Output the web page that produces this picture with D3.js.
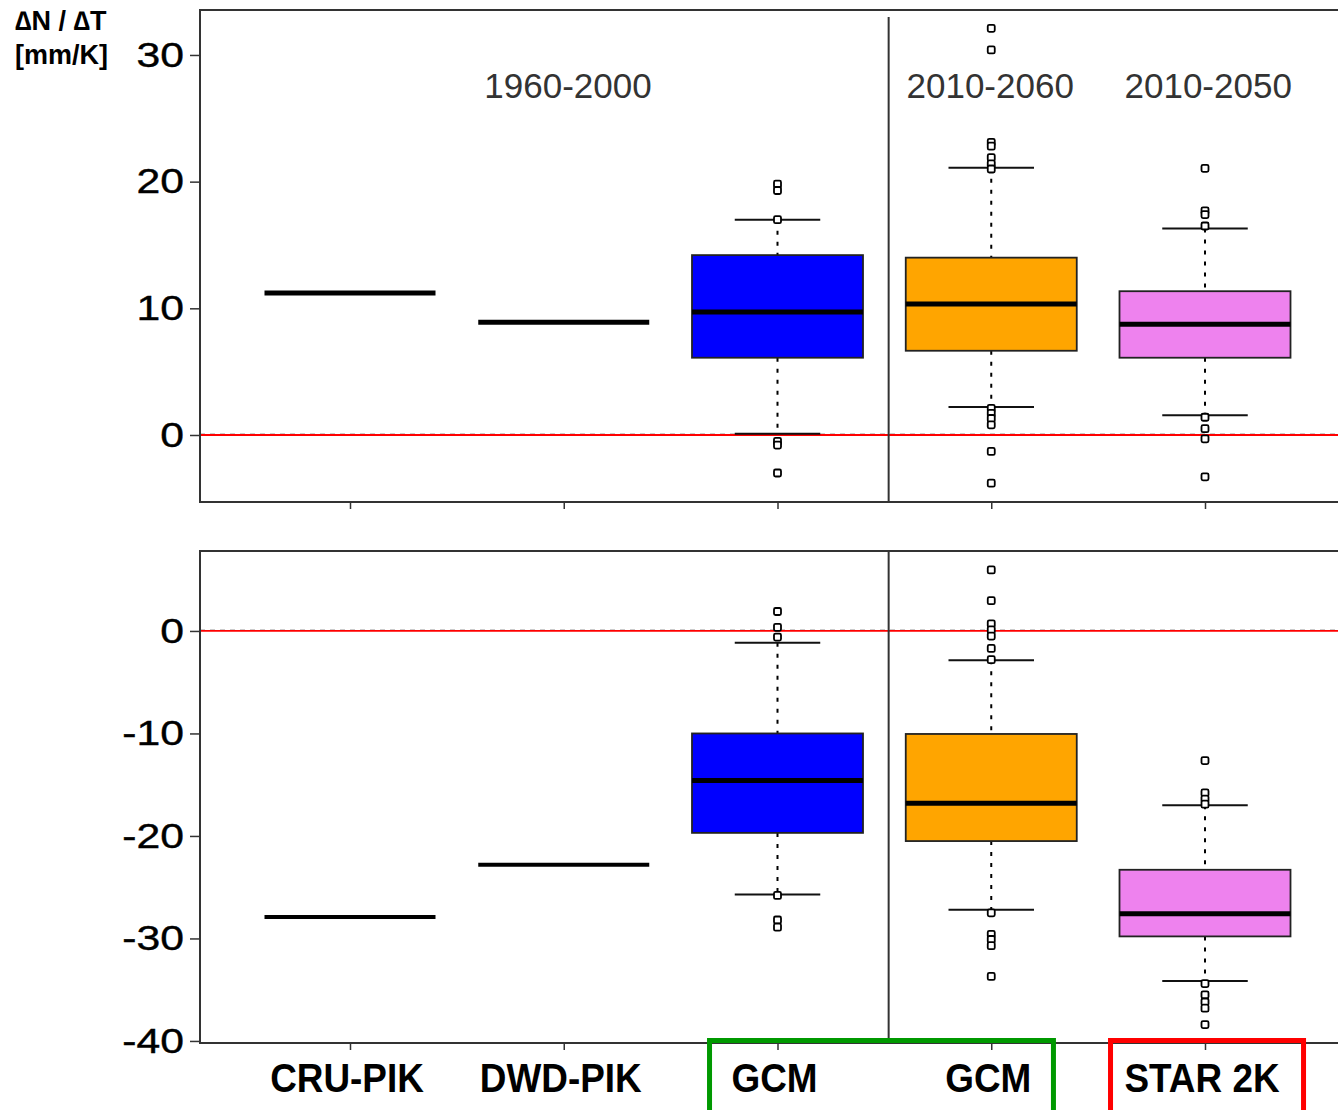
<!DOCTYPE html>
<html><head><meta charset="utf-8">
<script src="https://cdn.jsdelivr.net/npm/d3@7"></script>
<style>body{margin:0;background:#fff}svg{display:block}</style>
</head><body>
<svg id="chart" width="1338" height="1110"></svg>
<script>
// ---- data ----
const categories = ["CRU-PIK", "DWD-PIK", "GCM", "GCM", "STAR 2K"];
const periodLabels = ["1960-2000", "2010-2060", "2010-2050"];
const periodPos = [1.02, 2.995, 4.015];
const topTicks = [0, 10, 20, 30];
const bottomTicks = [0, -10, -20, -30, -40];
const boxColors = ["#0000ff", "#ffa500", "#ee82ee"];
const boxCats = [2, 3, 4];

// observed single values (CRU-PIK, DWD-PIK)
const topObserved = [11.2, 8.9];
const bottomObserved = [-27.9, -22.8];

// top panel box statistics (GCM 1960-2000, GCM 2010-2060, STAR 2K)
const topLow = [0.1, 2.2, 1.55];
const topQ1 = [6.1, 6.65, 6.1];
const topMedian = [9.7, 10.35, 8.75];
const topQ3 = [14.2, 14.0, 11.35];
const topHigh = [17.0, 21.1, 16.3];
const topOutliers = [
  [19.8, 19.3, 17.0, -0.5, -0.8, -3.0],
  [32.1, 30.4, 23.1, 22.8, 21.9, 21.4, 21.0, 2.1, 1.7, 1.3, 0.8, -1.3, -3.8],
  [21.05, 17.7, 17.4, 16.5, 1.4, 0.5, -0.3, -3.3]
];

// bottom panel box statistics
const bottomLow = [-25.7, -27.2, -34.15];
const bottomQ1 = [-19.7, -20.5, -29.8];
const bottomMedian = [-14.6, -16.8, -27.6];
const bottomQ3 = [-10.0, -10.05, -23.3];
const bottomHigh = [-1.15, -2.85, -17.0];
const bottomOutliers = [
  [1.9, 0.35, -0.6, -25.8, -28.2, -28.9],
  [5.95, 2.95, 0.7, 0.1, -0.5, -1.7, -2.8, -27.5, -29.6, -30.1, -30.7, -33.7],
  [-12.65, -15.8, -16.4, -16.9, -34.4, -35.5, -36.2, -36.8, -38.4]
];

// ---- layout ----
const svg = d3.select("#chart");
const x = d3.scaleLinear().domain([0, 4]).range([350, 1205]);
const step = x(1) - x(0);
const boxW = step * 0.8;
const left = 200, rightEdge = 1345;

const panels = [
  {y: d3.scaleLinear().domain([-5.29, 33.55]).range([502, 10]), ticks: topTicks,
   obs: topObserved, low: topLow, q1: topQ1, med: topMedian, q3: topQ3, high: topHigh, out: topOutliers,
   obsW: 5, labels: true, divTop: 17},
  {y: d3.scaleLinear().domain([-40.2, 7.8]).range([1043, 551]), ticks: bottomTicks,
   obs: bottomObserved, low: bottomLow, q1: bottomQ1, med: bottomMedian, q3: bottomQ3, high: bottomHigh, out: bottomOutliers,
   obsW: 4, labels: false, divTop: 551}
];

panels.forEach(p => {
  const g = svg.append("g");
  const [yb, yt] = p.y.range();
  // zero reference lines
  g.append("line").attr("x1", left).attr("x2", rightEdge)
    .attr("y1", p.y(0) - 1).attr("y2", p.y(0) - 1)
    .attr("stroke", "#bbb").attr("stroke-width", 1.5).attr("stroke-dasharray", "5,5");
  g.append("line").attr("x1", left).attr("x2", rightEdge)
    .attr("y1", p.y(0)).attr("y2", p.y(0))
    .attr("stroke", "#ff0000").attr("stroke-width", 1.8);

  // frame
  g.append("path")
    .attr("d", `M${rightEdge},${yt}H${left}V${yb}H${rightEdge}`)
    .attr("fill", "none").attr("stroke", "#333").attr("stroke-width", 2);
  // divider
  g.append("line").attr("x1", x(2.52)).attr("x2", x(2.52))
    .attr("y1", p.divTop).attr("y2", yb)
    .attr("stroke", "#333").attr("stroke-width", 2);

  // y axis
  const yAxis = d3.axisLeft(p.y).tickValues(p.ticks).tickSize(10).tickPadding(6).tickFormat(d => String(d));
  const ya = g.append("g").attr("transform", `translate(${left},0)`).call(yAxis);
  ya.select(".domain").remove();
  ya.selectAll(".tick line").attr("stroke", "#333").attr("stroke-width", 1.5);
  ya.selectAll(".tick text")
    .attr("font-family", "Liberation Sans, Arial, sans-serif")
    .attr("font-size", 35).attr("fill", "#000")
    .attr("stroke", "#000").attr("stroke-width", 0.4)
    .attr("x", -16).style("transform-box", "fill-box")
    .style("transform-origin", "right center").style("transform", "scaleX(1.22)");

  // x ticks
  const xa = g.append("g").attr("transform", `translate(0,${yb})`)
    .call(d3.axisBottom(x).tickValues([0, 1, 2, 3, 4]).tickSize(7).tickFormat(""));
  xa.select(".domain").remove();
  xa.selectAll(".tick line").attr("stroke", "#333").attr("stroke-width", 1.5);

  // observed lines
  g.selectAll(".obs").data(p.obs).join("line")
    .attr("x1", (d, i) => x(i) - boxW / 2).attr("x2", (d, i) => x(i) + boxW / 2)
    .attr("y1", d => p.y(d)).attr("y2", d => p.y(d))
    .attr("stroke", "#000").attr("stroke-width", p.obsW);

  // boxes
  boxCats.forEach((c, i) => {
    const cx = x(c);
    g.append("line").attr("x1", cx).attr("x2", cx)
      .attr("y1", p.y(p.high[i])).attr("y2", p.y(p.q3[i]))
      .attr("stroke", "#000").attr("stroke-width", 2).attr("stroke-dasharray", "4,7");
    g.append("line").attr("x1", cx).attr("x2", cx)
      .attr("y1", p.y(p.q1[i])).attr("y2", p.y(p.low[i]))
      .attr("stroke", "#000").attr("stroke-width", 2).attr("stroke-dasharray", "4,7");
    [p.high[i], p.low[i]].forEach(v => {
      g.append("line").attr("x1", cx - boxW / 4).attr("x2", cx + boxW / 4)
        .attr("y1", p.y(v)).attr("y2", p.y(v))
        .attr("stroke", "#111").attr("stroke-width", 2);
    });
    g.append("rect").attr("x", cx - boxW / 2).attr("width", boxW)
      .attr("y", p.y(p.q3[i])).attr("height", p.y(p.q1[i]) - p.y(p.q3[i]))
      .attr("fill", boxColors[i]).attr("stroke", "#222").attr("stroke-width", 1.8);
    g.append("line").attr("x1", cx - boxW / 2).attr("x2", cx + boxW / 2)
      .attr("y1", p.y(p.med[i])).attr("y2", p.y(p.med[i]))
      .attr("stroke", "#000").attr("stroke-width", 5);
    g.selectAll(null).data(p.out[i]).join("rect")
      .attr("x", cx - 3.5).attr("y", d => p.y(d) - 3.5)
      .attr("width", 7).attr("height", 7).attr("rx", 1.5)
      .attr("fill", "#fff").attr("stroke", "#000").attr("stroke-width", 1.8);
  });

  if (p.labels) {
    g.selectAll(".per").data(periodLabels).join("text")
      .attr("x", (d, i) => x(periodPos[i])).attr("y", yt + 88)
      .attr("text-anchor", "middle")
      .attr("font-family", "Liberation Sans, Arial, sans-serif")
      .attr("font-size", 35).attr("fill", "#333")
      .text(d => d);
  }
});

// category labels (narrowed bold)
svg.selectAll(".cat").data(categories).join("text")
  .attr("transform", (d, i) => `translate(${x(i) - 3},1092) scale(0.9,1)`)
  .attr("text-anchor", "middle")
  .attr("font-family", "Liberation Sans, Arial, sans-serif")
  .attr("font-weight", "bold").attr("font-size", 41).attr("fill", "#000")
  .text(d => d);

// highlight frames
svg.append("path").attr("d", `M${x(1.682)},1115V1040.5H${x(3.291)}V1115`)
  .attr("fill", "none").attr("stroke", "#009900").attr("stroke-width", 5);
svg.append("path").attr("d", `M${x(3.558)},1115V1040.5H${x(4.461)}V1115`)
  .attr("fill", "none").attr("stroke", "#ff0000").attr("stroke-width", 5);

// y label
const yl = svg.append("text").attr("font-family", "Liberation Sans, Arial, sans-serif")
  .attr("font-weight", "bold").attr("font-size", 27).attr("fill", "#000");
yl.append("tspan").attr("x", 15).attr("y", 30).text("\u2206N / \u2206T");
yl.append("tspan").attr("x", 15).attr("y", 64).text("[mm/K]");
</script>
</body></html>
